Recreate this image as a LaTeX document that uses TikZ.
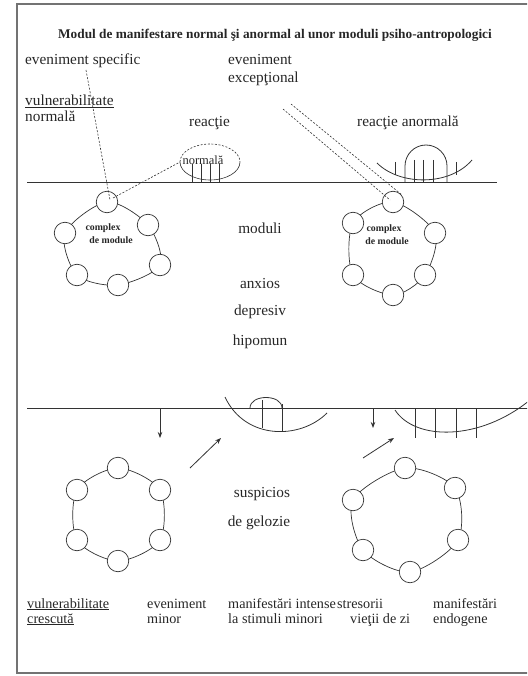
\documentclass[tikz,border=0pt]{standalone}
\usepackage{fontspec}
\setmainfont{Liberation Serif}
\usetikzlibrary{arrows.meta}
\begin{document}
\begin{tikzpicture}[x=1pt,y=-1pt,
  txt/.style={font=\fontsize{15.3}{15}\selectfont, inner sep=0, text=black!85},
  mid/.style={txt, anchor=base},
  lft/.style={txt, anchor=base west},
  bot/.style={lft, font=\fontsize{14.2}{15}\selectfont},
  modc/.style={circle, draw=black!80, fill=white, minimum size=21.5pt, inner sep=0, line width=0.7pt},
  ring/.style={draw=black!80, line width=0.7pt},
  dsh/.style={draw=black!80, dash pattern=on 2pt off 1.6pt, line width=0.6pt},
  lin/.style={draw=black!80, line width=0.8pt},
  arr/.style={lin, -{Stealth[length=6pt,width=4.5pt]}},
  cx/.style={font=\bfseries\fontsize{9.8}{12}\selectfont, inner sep=0, anchor=base, text=black!85}
]
\useasboundingbox (0,0) rectangle (527,676);
\clip (0,0) rectangle (527,676);
% frame
\draw[black!55, line width=1.6pt] (17,4) rectangle (560,673);

% title
\node[font=\bfseries\fontsize{13.3}{14}\selectfont, inner sep=0, anchor=base, text=black!85] (title) at (275,39)
  {Modul de manifestare normal şi anormal al unor moduli psiho-antropologici};

% top texts
\node[lft] (evs) at (25,65) {eveniment specific};
\node[lft] (eve) at (228,65) {eveniment};
\node[lft] (exc) at (228,83) {excepţional};
\node[lft] (vn) at (25,106) {\underline{vulnerabilitate}};
\node[lft] (nl) at (25,122) {normală};
\node[lft] (rn) at (189,127) {reacţie};
\node[lft] (ra) at (357,127) {reacţie anormală};

% horizontal lines
\coordinate (h1a) at (27,182); \coordinate (h1b) at (497,182);
\draw[lin] (h1a) -- (h1b);
\coordinate (h2a) at (27,408); \coordinate (h2b) at (540,408);
\draw[lin] (h2a) -- (h2b);

% ---- top-left reaction (normal)
\node[font=\fontsize{12.5}{12}\selectfont, inner sep=0, anchor=base, text=black!85] (nm) at (203,165) {normală};
\draw[dsh] (180,162) arc[start angle=180, end angle=360, x radius=30, y radius=18];
\draw[lin, line width=0.6pt] (240,162) arc[start angle=0, end angle=180, x radius=30, y radius=18];
\foreach \x in {192,201,210,219} \draw[lin, line width=0.6pt] (\x,164) -- (\x,182);

% ---- top-right reaction (abnormal)
\draw[lin] (377,163) .. controls (400,186) and (450,186) .. (472,160);
\draw[lin] (405,182) -- (405,166) arc[start angle=180, end angle=360, radius=21] -- (447,182);
\foreach \x in {414,423,433} \draw[lin] (\x,160) -- (\x,182);
\draw[lin] (395,162) -- (395,175);
\draw[lin] (456,162) -- (456,175);

% ---- top-left ring
\draw[ring] plot[smooth cycle] coordinates {(107,202) (148,225) (160,265) (118,285) (77,275) (65,233)};
\node[modc] (L1) at (107,202) {};
\node[modc] (L2) at (148,225) {};
\node[modc] (L3) at (160,265) {};
\node[modc] (L4) at (118,285) {};
\node[modc] (L5) at (77,275) {};
\node[modc] (L6) at (65,233) {};
\node[cx] (Lc1) at (103,230) {complex};
\node[cx] (Lc2) at (111,243) {de module};

% ---- top-right ring
\draw[ring] plot[smooth cycle] coordinates {(393,202) (435,233) (425,275) (393,295) (353,275) (353,223)};
\node[modc] (R1) at (393,202) {};
\node[modc] (R2) at (435,233) {};
\node[modc] (R3) at (425,275) {};
\node[modc] (R4) at (393,295) {};
\node[modc] (R5) at (353,275) {};
\node[modc] (R6) at (353,223) {};
\node[cx] (Rc1) at (384,231) {complex};
\node[cx] (Rc2) at (387,244) {de module};

% dashed connectors (top)
\coordinate (evsP) at (86,70);
\coordinate (L1in) at (110,200);
\draw[dsh] (evsP) -- (L1in);
\coordinate (L1out) at (113,198);
\draw[dsh] (L1out) -- (180,162);
\coordinate (exA) at (283,109); \coordinate (exAe) at (390,200);
\coordinate (exB) at (291,104); \coordinate (exBe) at (402,195);
\draw[dsh] (exA) -- (exAe);
\draw[dsh] (exB) -- (exBe);

% middle texts
\node[mid] (mod) at (260,233) {moduli};
\node[mid] (anx) at (260,288) {anxios};
\node[mid] (dep) at (260,315) {depresiv};
\node[mid] (hip) at (260,345) {hipomun};
\node[mid] (sus) at (262,497) {suspicios};
\node[mid] (gel) at (259,526) {de gelozie};

% ---- bottom-middle reaction
\draw[lin] (225,397) .. controls (245,440) and (300,440) .. (327,413);
\draw[lin] (250,408) .. controls (250,394) and (282,394) .. (282,408);
\draw[lin] (262,400) -- (262,428);
\draw[lin] (282,404) -- (282,431);

% ---- bottom-right reaction
\draw[lin] (395,410) .. controls (415,441) and (480,441) .. (530,400);
\foreach \x in {415,435,456,476} \draw[lin] (\x,408) -- (\x,438);

% arrows
\coordinate (a1s) at (160,408); \coordinate (a1e) at (160,438);
\draw[arr] (a1s) -- (a1e);
\coordinate (a2s) at (190,468); \coordinate (a2e) at (221,438);
\draw[arr] (a2s) -- (a2e);
\coordinate (a3s) at (373,408); \coordinate (a3e) at (373,428);
\draw[arr] (a3s) -- (a3e);
\coordinate (a4s) at (363,458); \coordinate (a4e) at (394,438);
\draw[arr] (a4s) -- (a4e);

% ---- bottom-left ring
\draw[ring] plot[smooth cycle] coordinates {(118,468) (160,490) (160,540) (118,561) (77,540) (77,490)};
\node[modc] (B1) at (118,468) {};
\node[modc] (B2) at (160,490) {};
\node[modc] (B3) at (160,540) {};
\node[modc] (B4) at (118,561) {};
\node[modc] (B5) at (77,540) {};
\node[modc] (B6) at (77,490) {};

% ---- bottom-right ring
\draw[ring] plot[smooth cycle] coordinates {(405,468) (455,488) (458,540) (410,572) (363,550) (353,500)};
\node[modc] (C1) at (405,468) {};
\node[modc] (C2) at (455,488) {};
\node[modc] (C3) at (458,540) {};
\node[modc] (C4) at (410,572) {};
\node[modc] (C5) at (363,550) {};
\node[modc] (C6) at (353,500) {};

% bottom texts
\node[bot] (vc1) at (27,608) {\underline{vulnerabilitate}};
\node[bot] (vc2) at (27,623) {\underline{crescută}};
\node[bot] (em1) at (147,608) {eveniment};
\node[bot] (em2) at (147,623) {minor};
\node[bot] (mi1) at (228,608) {manifestări intense};
\node[bot] (mi2) at (228,623) {la stimuli minori};
\node[bot] (st) at (337,608) {stresorii};
\node[bot] (vz) at (350,623) {vieţii de zi};
\node[bot] (me1) at (433,608) {manifestări};
\node[bot] (me2) at (433,623) {endogene};
\end{tikzpicture}
\end{document}
